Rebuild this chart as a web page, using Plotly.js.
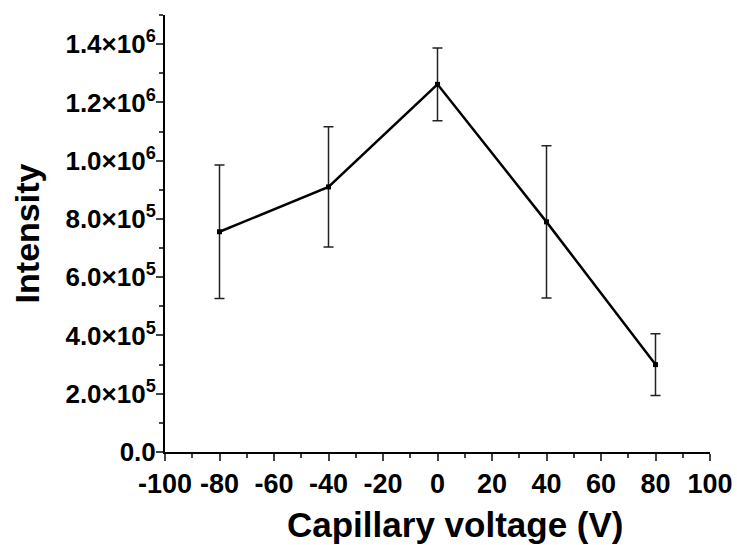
<!DOCTYPE html>
<html>
<head>
<meta charset="utf-8">
<script src="https://cdn.plot.ly/plotly-3.0.1.min.js"></script>
<style>html,body{margin:0;padding:0;background:#fff;}#chart{width:737px;height:545px;}</style>
</head>
<body>
<div id="chart"></div>
<script>
const voltage = [-80, -40, 0, 40, 80];
const intensity = [756000, 910000, 1262000, 790000, 300000];
const errorVals = [229000, 206000, 125000, 261000, 106000];
const yTickVals = [0, 200000, 400000, 600000, 800000, 1000000, 1200000, 1400000];
const yTickText = ['0.0', '2.0×10<sup>5</sup>', '4.0×10<sup>5</sup>', '6.0×10<sup>5</sup>', '8.0×10<sup>5</sup>', '1.0×10<sup>6</sup>', '1.2×10<sup>6</sup>', '1.4×10<sup>6</sup>'];
const xTickVals = [-100, -80, -60, -40, -20, 0, 20, 40, 60, 80, 100];
const xTickText = ['-100', '-80', '-60', '-40', '-20', '0', '20', '40', '60', '80', '100'];

const font = 'Liberation Sans, Arial, sans-serif';
const trace = {
  x: voltage, y: intensity, type: 'scatter', mode: 'lines+markers',
  line: {color: '#000', width: 2.5},
  marker: {symbol: 'square', size: 5, color: '#000'},
  error_y: {type: 'data', array: errorVals, visible: true, color: '#222', thickness: 1.5, width: 5}
};
const layout = {
  width: 737, height: 545,
  margin: {l: 165, r: 27, t: 15, b: 93},
  paper_bgcolor: '#fff', plot_bgcolor: '#fff',
  showlegend: false,
  font: {family: font, color: '#000'},
  xaxis: {
    range: [-100, 100], tickvals: xTickVals, ticktext: xTickText, ticks: 'outside', ticklen: 7, tickwidth: 2,
    showline: true, linewidth: 2, linecolor: '#000', showgrid: false, zeroline: false,
    tickfont: {family: font, size: 27, weight: 'bold'},
    minor: {dtick: 10, ticks: 'outside', ticklen: 4, tickwidth: 2, showgrid: false}
  },
  yaxis: {
    range: [0, 1500000], tickvals: yTickVals, ticktext: yTickText, ticks: 'outside', ticklen: 7, tickwidth: 2,
    showline: true, linewidth: 2, linecolor: '#000', showgrid: false, zeroline: false,
    tickfont: {family: font, size: 26, weight: 'bold'},
    ticklabelstandoff: -5,
    minor: {dtick: 100000, ticks: 'outside', ticklen: 4, tickwidth: 2, showgrid: false},
    title: {text: '<b>Intensity</b>', font: {family: font, size: 34}, standoff: 16}
  },
  annotations: [{
    text: '<b>Capillary voltage (V)</b>', xref: 'paper', yref: 'paper',
    x: 0.532, y: -0.167, xanchor: 'center', yanchor: 'middle', showarrow: false,
    font: {family: font, size: 35, color: '#000'}
  }]
};
Plotly.newPlot('chart', [trace], layout, {staticPlot: true, displayModeBar: false});
</script>
</body>
</html>
